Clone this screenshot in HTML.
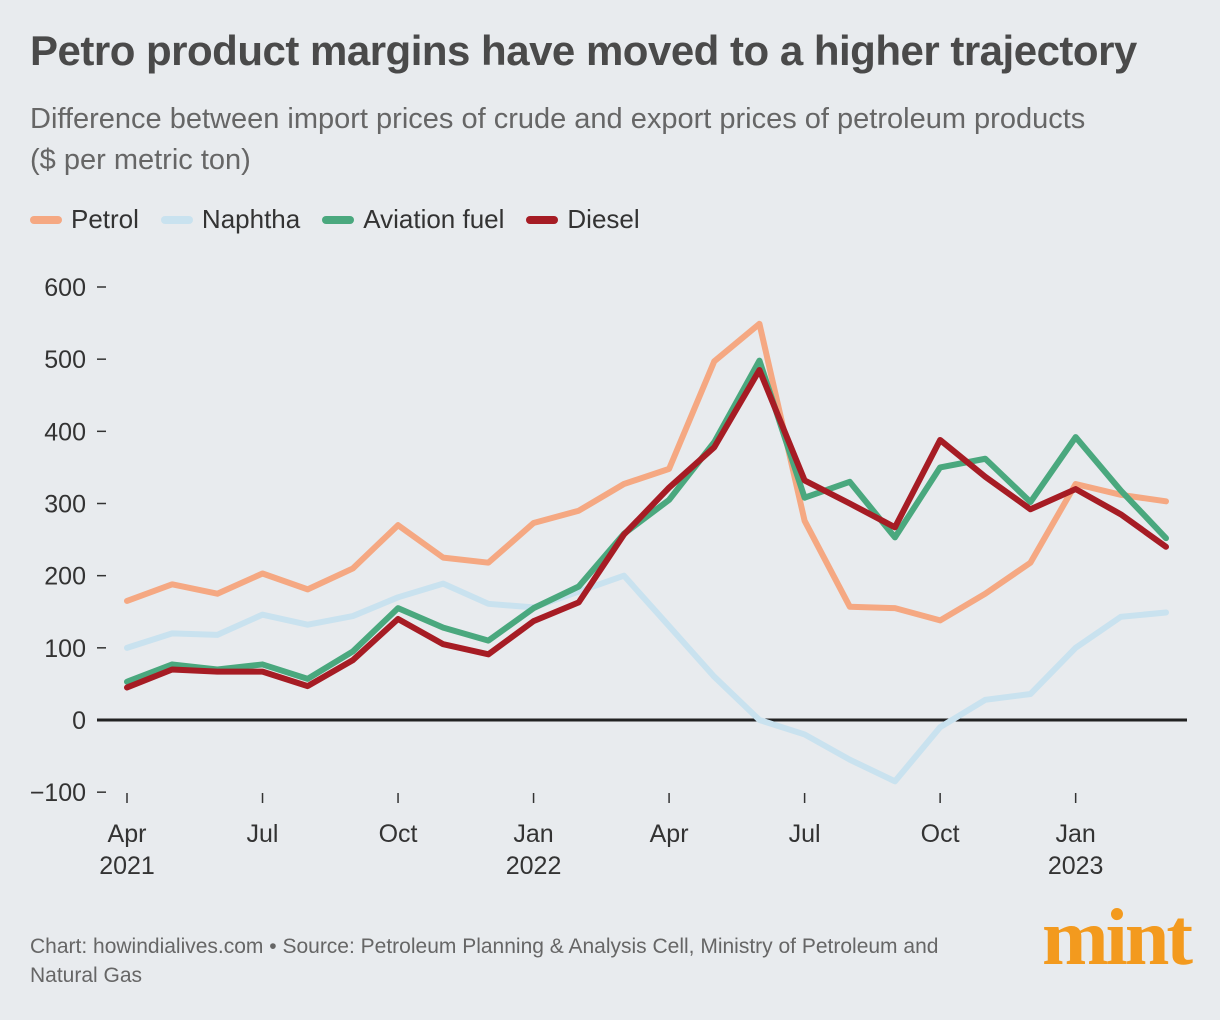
<!DOCTYPE html>
<html><head><meta charset="utf-8">
<style>
body{margin:0;width:1220px;height:1020px;background:#e8ebee;font-family:"Liberation Sans",sans-serif;overflow:hidden;position:relative}
#title{position:absolute;left:30px;top:27px;font-size:42px;font-weight:bold;color:#4a4a4a;letter-spacing:-0.5px;white-space:nowrap}
#sub{position:absolute;left:30px;top:99px;font-size:29px;color:#666;line-height:41px;width:1180px}
#legend{position:absolute;left:30px;top:204px;font-size:26px;color:#333;display:flex;gap:22px}
.li{display:flex;align-items:center}
.sw{width:32px;height:8px;border-radius:4px;margin-right:9px}
#src{position:absolute;left:30px;top:932px;font-size:21px;color:#666;line-height:29px;width:970px}
#logo{position:absolute;right:30px;top:898px;font-size:80px;font-weight:bold;color:#f39a1e;font-family:"Liberation Serif",serif;letter-spacing:-3px;line-height:1}
svg{position:absolute;left:0;top:0}
</style></head><body>
<div id="title">Petro product margins have moved to a higher trajectory</div>
<div id="sub">Difference between import prices of crude and export prices of petroleum products<br>($ per metric ton)</div>
<div id="legend">
<div class="li"><span class="sw" style="background:#f5a882"></span>Petrol</div>
<div class="li"><span class="sw" style="background:#c9e2ef"></span>Naphtha</div>
<div class="li"><span class="sw" style="background:#4aa87e"></span>Aviation fuel</div>
<div class="li"><span class="sw" style="background:#a61c24"></span>Diesel</div>
</div>
<svg id="chart" width="1220" height="1020"></svg>
<div id="src">Chart: howindialives.com • Source: Petroleum Planning &amp; Analysis Cell, Ministry of Petroleum and Natural Gas</div>
<div id="logo">mint</div>
<script>
const yTicks=[600,500,400,300,200,100,0,-100];
const xTickIdx=[0,3,6,9,12,15,18,21];
const xTickLabels=["Apr","Jul","Oct","Jan","Apr","Jul","Oct","Jan"];
const xTickYears=["2021","","","2022","","","","2023"];
const petrol=[165,188,175,203,181,210,270,225,218,273,290,327,348,497,549,276,157,155,138,175,218,327,312,303];
const naphtha=[100,120,118,146,132,144,170,189,161,156,178,200,130,60,0,-20,-55,-85,-10,28,36,100,143,149];
const aviation=[53,77,70,77,57,95,155,128,110,155,185,258,305,385,498,308,330,253,350,362,302,392,318,252];
const diesel=[45,70,67,67,47,83,140,105,91,137,163,257,322,378,485,332,300,267,388,337,292,320,285,240];
const svg=document.getElementById('chart');
const NS='http://www.w3.org/2000/svg';
const x=i=>127+i*(1166-127)/23;
const y=v=>720-v*(720-287)/600;
function mk(t,a){const e=document.createElementNS(NS,t);for(const k in a)e.setAttribute(k,a[k]);svg.appendChild(e);return e;}
yTicks.forEach(v=>{
 const t=mk('text',{x:86,y:y(v)+9,'text-anchor':'end','font-size':25,fill:'#333','font-family':'Liberation Sans, sans-serif'});
 t.textContent=(v<0?'\u2212'+(-v):v);
 
 
 const l=mk('line',{x1:97,x2:106,y1:y(v),y2:y(v),stroke:'#333','stroke-width':1.5});
 
 
});
const z=mk('line',{x1:97,x2:1187,y1:y(0),y2:y(0),stroke:'#222','stroke-width':3});


xTickIdx.forEach((i,k)=>{
 const l=mk('line',{x1:x(i),x2:x(i),y1:793,y2:803,stroke:'#333','stroke-width':1.5});
 
 
 const t=mk('text',{x:x(i),y:842,'text-anchor':'middle','font-size':25,fill:'#333','font-family':'Liberation Sans, sans-serif'});
 t.textContent=xTickLabels[k];
 
 
 if(xTickYears[k]){const t2=mk('text',{x:x(i),y:874,'text-anchor':'middle','font-size':25,fill:'#333','font-family':'Liberation Sans, sans-serif'});
 t2.textContent=xTickYears[k];
 
 }
});
function line(d,c,n){const p=mk('polyline',{points:d.map((v,i)=>x(i)+','+y(v)).join(' '),fill:'none',stroke:c,'stroke-width':6,'stroke-linejoin':'round','stroke-linecap':'round'});
 
 }
line(naphtha,'#c9e2ef','naphtha-line');
line(petrol,'#f5a882','petrol-line');
line(aviation,'#4aa87e','aviation-fuel-line');
line(diesel,'#a61c24','diesel-line');
</script>
</body></html>
